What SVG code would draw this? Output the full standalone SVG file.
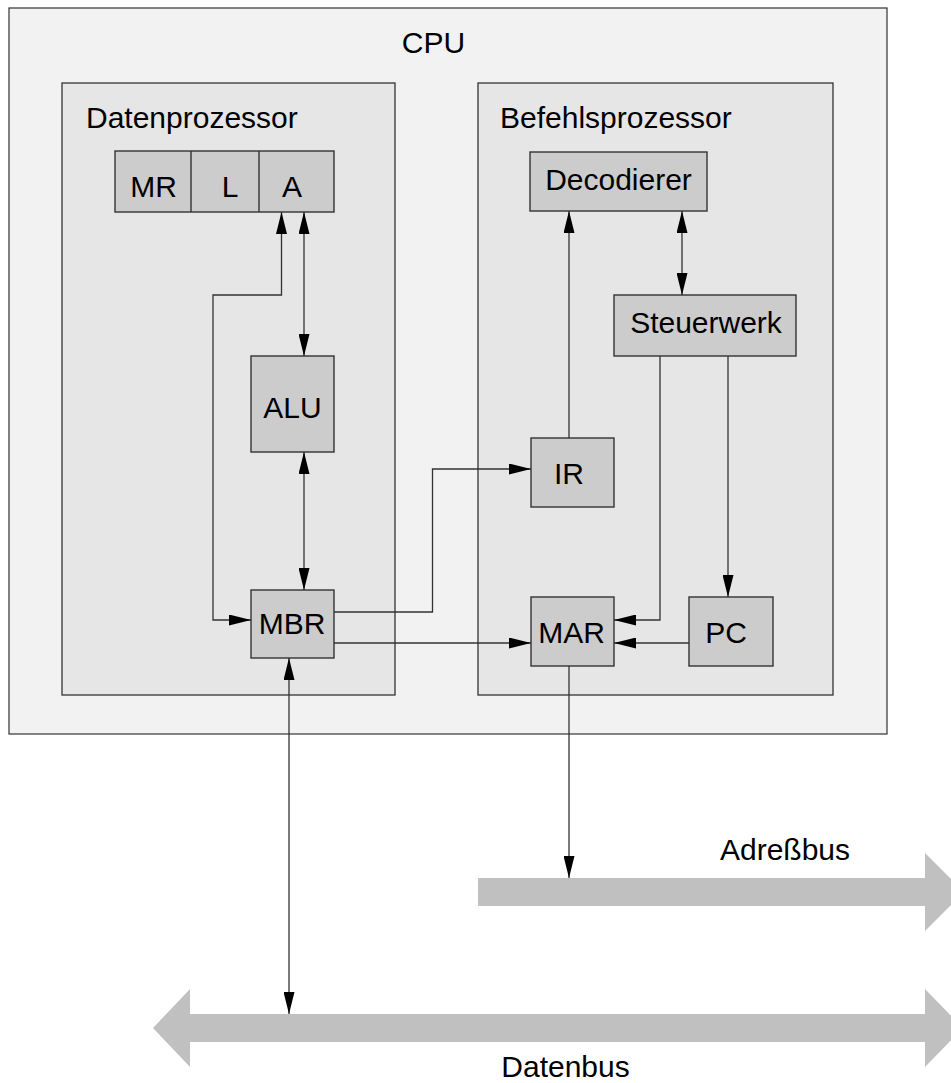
<svg xmlns="http://www.w3.org/2000/svg" width="951" height="1083" viewBox="0 0 951 1083">
<style>
text{font-family:"Liberation Sans",Arial,sans-serif;font-size:30px;fill:#000}
.c{text-anchor:middle}
.box{fill:#cccccc;stroke:#333;stroke-width:1.4}
.inner{fill:#e6e6e6;stroke:#333;stroke-width:1.3}
.outer{fill:#f2f2f2;stroke:#333;stroke-width:1.2}
.bus{fill:#c0c0c0;stroke:none}
.ln{fill:none;stroke:#333;stroke-width:1.3;marker-end:url(#ah)}
.bi{marker-start:url(#ahs)}
</style>
<defs>
<marker id="ah" markerUnits="userSpaceOnUse" markerWidth="22" markerHeight="11" refX="22" refY="5.5" orient="auto" viewBox="0 0 22 11"><path d="M0,0 L22,5.5 L0,11 z" fill="#000"/></marker>
<marker id="ahs" markerUnits="userSpaceOnUse" markerWidth="22" markerHeight="11" refX="22" refY="5.5" orient="auto-start-reverse" viewBox="0 0 22 11"><path d="M0,0 L22,5.5 L0,11 z" fill="#000"/></marker>
</defs>
<g id="cpu"><rect class="outer" x="9" y="8" width="878" height="726"/><text class="c" x="433.5" y="53">CPU</text></g>
<g id="datenprozessor"><rect class="inner" x="62" y="83" width="333" height="612"/><text x="86" y="128">Datenprozessor</text></g>
<g id="befehlsprozessor"><rect class="inner" x="478" y="83" width="355" height="612"/><text x="500" y="128">Befehlsprozessor</text></g>
<g id="register"><rect class="box" x="115" y="151" width="219" height="61"/><line x1="191" y1="151" x2="191" y2="212" stroke="#333" stroke-width="1.4"/><line x1="259" y1="151" x2="259" y2="212" stroke="#333" stroke-width="1.4"/><text class="c" x="153.5" y="197">MR</text><text class="c" x="230" y="197">L</text><text class="c" x="292" y="197">A</text></g>
<g id="alu"><rect class="box" x="251" y="356" width="83" height="96"/><text class="c" x="292.5" y="418">ALU</text></g>
<g id="mbr"><rect class="box" x="251" y="590" width="83" height="68"/><text class="c" x="292" y="634">MBR</text></g>
<g id="decodierer"><rect class="box" x="530" y="152" width="177" height="59"/><text class="c" x="618.5" y="190">Decodierer</text></g>
<g id="steuerwerk"><rect class="box" x="614" y="295" width="182" height="61"/><text class="c" x="706" y="333">Steuerwerk</text></g>
<g id="ir"><rect class="box" x="531" y="438" width="83" height="69"/><text class="c" x="569" y="484">IR</text></g>
<g id="mar"><rect class="box" x="531" y="597" width="83" height="69"/><text class="c" x="571.7" y="643">MAR</text></g>
<g id="pc"><rect class="box" x="689" y="597" width="84" height="69"/><text class="c" x="726" y="643">PC</text></g>
<g id="adressbus"><polygon class="bus" points="478,878 925,878 925,853 964,892 925,931 925,906 478,906"/><text class="c" x="785" y="860">Adreßbus</text></g>
<g id="datenbus"><polygon class="bus" points="153,1028 190,989 190,1014 925,1014 925,989 963,1028 925,1067 925,1042 190,1042 190,1067"/><text class="c" x="565.5" y="1077">Datenbus</text></g>
<g id="connectors">
<path class="ln bi" d="M304,212 V356"/>
<path class="ln bi" d="M304,452 V590"/>
<path class="ln bi" d="M281.5,212 V295 H213 V620 H251"/>
<path class="ln" d="M334,612 H432.5 V469 H531"/>
<path class="ln" d="M334,643 H531"/>
<path class="ln" d="M569,438 V211"/>
<path class="ln bi" d="M682,211 V295"/>
<path class="ln" d="M660,356 V620 H614"/>
<path class="ln" d="M728,356 V597"/>
<path class="ln" d="M689,643 H614"/>
<path class="ln" d="M569,666 V878"/>
<path class="ln bi" d="M289,658 V1014"/>
</g>
</svg>
